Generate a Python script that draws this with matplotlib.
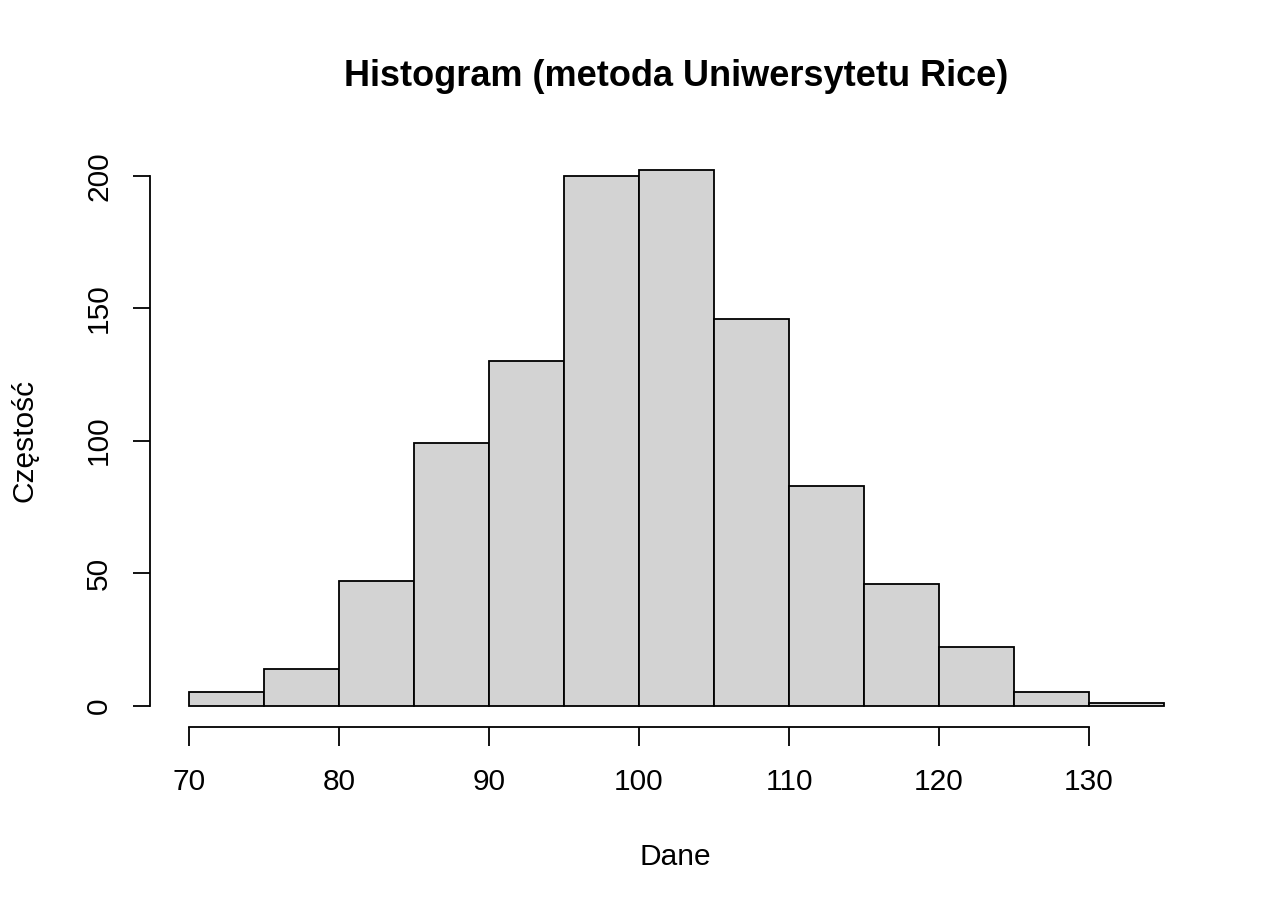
import numpy as np
import matplotlib.pyplot as plt

plt.rcParams['font.family'] = ['Liberation Sans', 'DejaVu Sans']

# przedziały i liczności
bin_edges = [70, 75, 80, 85, 90, 95, 100, 105, 110, 115, 120, 125, 130, 135]
counts = [5, 14, 47, 99, 130, 200, 202, 146, 83, 46, 22, 5, 1]
x_ticks = [70, 80, 90, 100, 110, 120, 130]
y_ticks = [0, 50, 100, 150, 200]

fig = plt.figure(figsize=(12.8, 9.14), dpi=100)
ax = fig.add_axes([150 / 1280, 1 - 727 / 914, 1053 / 1280, 578 / 914])

ax.hist(bin_edges[:-1], bins=bin_edges, weights=counts,
        facecolor='#d3d3d3', edgecolor='black', linewidth=1.3)

# zakres jak w R (4% zapasu)
ax.set_xlim(70 - 0.04 * 65, 135 + 0.04 * 65)
ax.set_ylim(-0.04 * 202, 202 * 1.04)

for s in ['top', 'right']:
    ax.spines[s].set_visible(False)
ax.spines['left'].set_bounds(0, 200)
ax.spines['bottom'].set_bounds(70, 130)
ax.spines['left'].set_linewidth(1.3)
ax.spines['bottom'].set_linewidth(1.3)

ax.set_xticks(x_ticks)
ax.set_yticks(y_ticks)
ax.tick_params(axis='x', length=13.5, width=1.3, pad=16, labelsize=21.5)
ax.tick_params(axis='y', length=12.5, width=1.3, pad=14, labelsize=21.5)
for lab in ax.get_yticklabels():
    lab.set_rotation(90)
    lab.set_va('center')

fig.text(675 / 1280, 1 - 857 / 914, 'Dane', ha='center', va='center', fontsize=21.5)
fig.text(25 / 1280, 1 - 440 / 914, 'Częstość', ha='center', va='center',
         rotation=90, fontsize=21.5)
fig.text(676 / 1280, 1 - 77 / 914, 'Histogram (metoda Uniwersytetu Rice)',
         ha='center', va='center', fontsize=26, fontweight='bold')

fig.savefig('out.png', dpi=100)
